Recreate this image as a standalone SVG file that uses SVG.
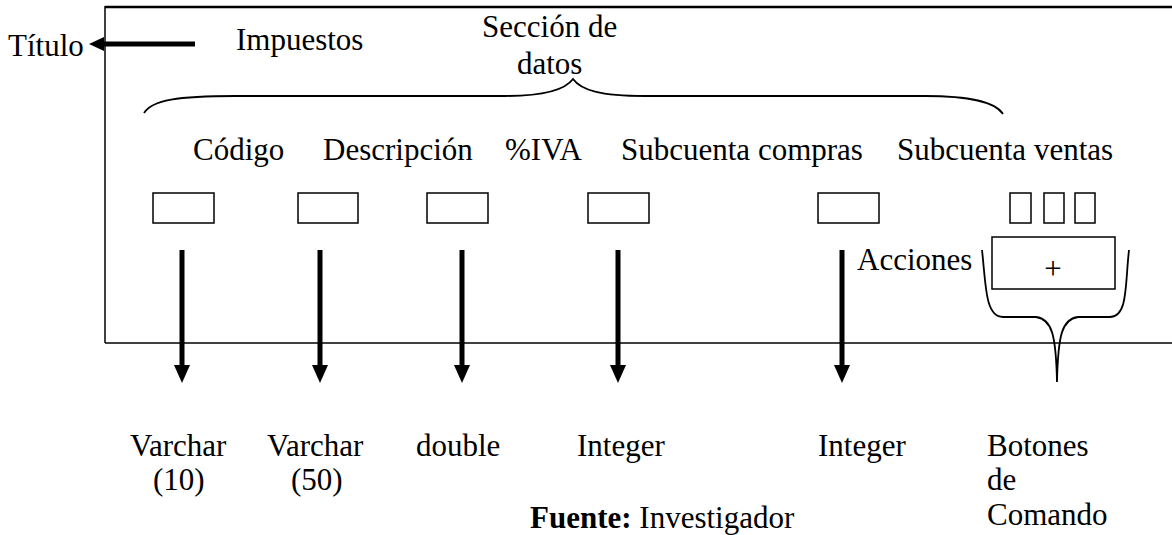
<svg xmlns="http://www.w3.org/2000/svg" width="1172" height="535" viewBox="0 0 1172 535">
<style>
text{font-family:"Liberation Serif","Times New Roman",serif;font-size:31px;fill:#000}
.field{fill:#fff;stroke:#000;stroke-width:1.5}
.frame{fill:none;stroke:#000;stroke-width:1.5}
.brace{fill:none;stroke:#000;stroke-width:1.8}
.arrow{stroke:#000;stroke-width:5;fill:none}
.head{fill:#000}
</style>
<rect width="1172" height="535" fill="#fff"/>
<g id="frame">
<line x1="105" y1="7" x2="1172" y2="7" stroke="#000" stroke-width="2.5"/>
<line x1="105" y1="6" x2="105" y2="343" class="frame"/>
<line x1="105" y1="343" x2="1172" y2="343" class="frame"/>
</g>
<g id="titulo"><text x="8" y="56">Título</text></g>
<g id="impuestos"><text x="236" y="50">Impuestos</text></g>
<g id="seccion">
<text x="482" y="37">Sección de</text>
<text x="517" y="74">datos</text>
<path class="brace" d="M144,113 C152,100 178,96 235,96 L505,96 C545,96 565,90 573,79 C581,90 600,96 645,96 L925,96 C975,96 996,103 1003,114"/>
</g>
<g id="codigo"><text x="193" y="160">Código</text><rect class="field" x="153" y="193" width="61" height="30"/></g>
<g id="descripcion"><text x="323" y="160">Descripción</text><rect class="field" x="298" y="193" width="60" height="30"/></g>
<g id="iva"><text x="505" y="160">%IVA</text><rect class="field" x="427" y="193" width="61" height="30"/></g>
<g id="subcompras"><text x="621" y="160">Subcuenta compras</text><rect class="field" x="588" y="193" width="61" height="30"/></g>
<g id="subventas"><text x="897" y="160">Subcuenta ventas</text><rect class="field" x="818" y="193" width="61" height="30"/></g>
<g id="navbuttons">
<rect class="field" x="1010" y="193" width="21" height="30"/>
<rect class="field" x="1044" y="193" width="20" height="30"/>
<rect class="field" x="1075" y="193" width="20" height="30"/>
</g>
<g id="acciones">
<text x="857" y="270">Acciones</text>
<rect class="field" x="992" y="237" width="123" height="52"/>
<text x="1053" y="279" text-anchor="middle" font-size="28">+</text>
<path class="brace" d="M982,250 C986,285 985,317 1003,317 L1036,317 C1052,319 1056,335 1057,382 M1129,250 C1125,285 1128,317 1110,317 L1078,317 C1062,319 1058,335 1057,382"/>
</g>
<g id="connectors">
<line class="arrow" x1="195" y1="44" x2="102" y2="44"/>
<polygon class="head" points="89,44 104,37 104,51"/>
<line class="arrow" x1="182" y1="250" x2="182" y2="367"/>
<polygon class="head" points="174,365 190,365 182,383"/>
<line class="arrow" x1="320" y1="250" x2="320" y2="367"/>
<polygon class="head" points="312,365 328,365 320,383"/>
<line class="arrow" x1="462" y1="250" x2="462" y2="367"/>
<polygon class="head" points="454,365 470,365 462,383"/>
<line class="arrow" x1="618" y1="250" x2="618" y2="367"/>
<polygon class="head" points="610,365 626,365 618,383"/>
<line class="arrow" x1="842" y1="250" x2="842" y2="367"/>
<polygon class="head" points="834,365 850,365 842,383"/>
</g>
<g id="tipos">
<text x="130" y="456">Varchar</text><text x="153" y="490">(10)</text>
<text x="267" y="456">Varchar</text><text x="291" y="490">(50)</text>
<text x="416" y="456">double</text>
<text x="577" y="456">Integer</text>
<text x="818" y="456">Integer</text>
<text x="987" y="456">Botones</text><text x="987" y="490">de</text><text x="987" y="525">Comando</text>
</g>
<g id="fuente"><text x="530" y="528" font-size="29"><tspan font-weight="bold">Fuente:</tspan> Investigador</text></g>
</svg>
